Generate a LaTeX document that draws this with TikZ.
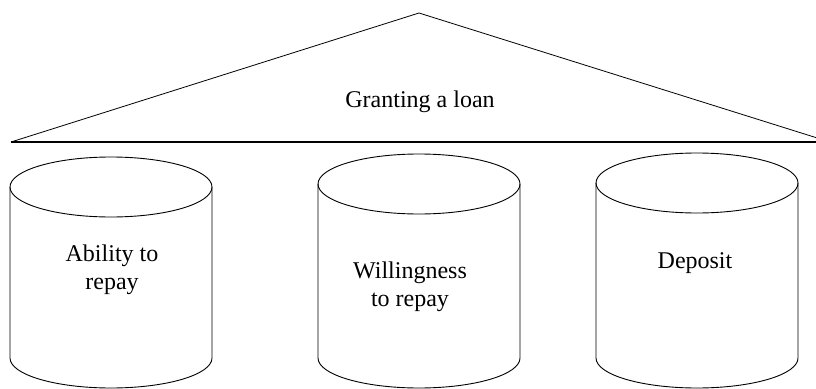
\documentclass[tikz,border=0pt]{standalone}
\usepackage{fontspec}
\setmainfont{Liberation Serif}

\begin{document}
\begin{tikzpicture}[x=1pt, y=-1pt, every node/.style={font=\fontsize{24}{28}\selectfont, align=center},
  pillar/.style={draw, line width=0.9pt}]
\useasboundingbox (0,0) rectangle (816,388);

% roof
\coordinate (eaveL) at (11,142);
\coordinate (ridge) at (419,13);
\coordinate (eaveR) at (830,142);
\coordinate (baseR) at (816,142);
\draw[line width=0.8pt] (eaveL) -- (ridge) -- (eaveR);
\draw[line width=1.3pt] (eaveL) -- (baseR);
\node (loan) at (420,102) {Granting a loan};

% pillars
\foreach \cx/\cy in {111/187, 419/184, 697/183} {
  \draw[pillar] (\cx,\cy) ellipse [x radius=101, y radius=30];
  \draw[pillar] (\cx-101,\cy) -- (\cx-101,358)
    arc [start angle=180, end angle=0, x radius=101, y radius=30] -- (\cx+101,\cy);
}

\node (ability) at (112,270) {Ability to\\repay};
\node (willing) at (410,287) {Willingness\\to repay};
\node (deposit) at (695,263) {Deposit};
\end{tikzpicture}
\end{document}
